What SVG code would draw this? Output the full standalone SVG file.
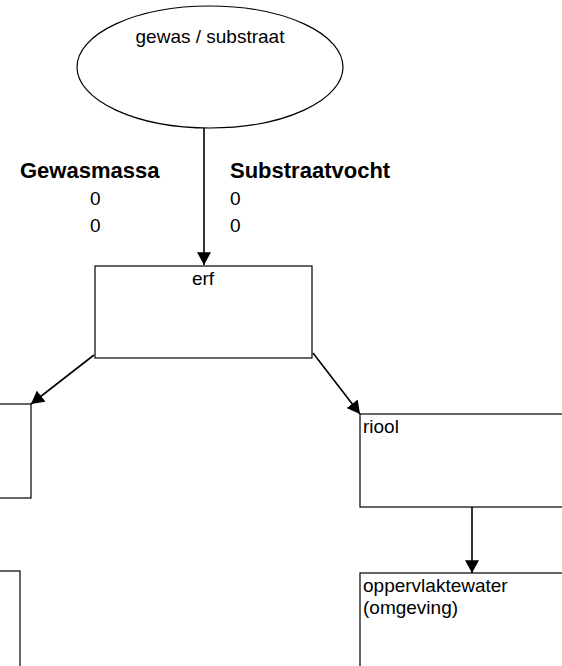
<svg xmlns="http://www.w3.org/2000/svg" width="562" height="666" viewBox="0 0 562 666">
  <style>
    .shape { fill: #fff; stroke: #000; stroke-width: 1.2; }
    .edge { stroke: #000; stroke-width: 1.6; fill: none; marker-end: url(#arrow); }
    .lbl { font-family: "Liberation Sans", Arial, sans-serif; font-size: 19px; fill: #000; }
    .hdr { font-family: "Liberation Sans", Arial, sans-serif; font-size: 22px; font-weight: bold; fill: #000; }
  </style>
  <defs>
    <marker id="arrow" markerUnits="userSpaceOnUse" markerWidth="14" markerHeight="14" viewBox="0 0 12 12" refX="11" refY="6" orient="auto">
      <path d="M0,0 L11,6 L0,12 Z" fill="#000"/>
    </marker>
  </defs>
  <rect width="562" height="666" fill="#fff"/>

  <!-- connectors -->
  <g id="connectors">
    <line class="edge" x1="204" y1="128" x2="204" y2="265"/>
    <line class="edge" x1="94" y1="355" x2="31" y2="404"/>
    <line class="edge" x1="313" y1="353" x2="360" y2="414"/>
    <line class="edge" x1="472" y1="507" x2="472" y2="573"/>
  </g>

  <g id="gewas-substraat">
    <ellipse class="shape" cx="210" cy="67" rx="133" ry="61"/>
    <text class="lbl" x="210" y="43" text-anchor="middle">gewas / substraat</text>
  </g>

  <g id="waarden">
    <text class="hdr" x="20" y="178">Gewasmassa</text>
    <text class="lbl" x="90" y="205">0</text>
    <text class="lbl" x="90" y="232">0</text>
    <text class="hdr" x="230" y="178">Substraatvocht</text>
    <text class="lbl" x="230" y="205">0</text>
    <text class="lbl" x="230" y="232">0</text>
  </g>

  <g id="erf">
    <rect class="shape" x="95" y="266" width="217" height="92"/>
    <text class="lbl" x="203" y="285" text-anchor="middle">erf</text>
  </g>

  <g id="links-boven">
    <rect class="shape" x="-10" y="404" width="41" height="94"/>
  </g>

  <g id="links-onder">
    <rect class="shape" x="-10" y="571" width="30" height="100"/>
  </g>

  <g id="riool">
    <rect class="shape" x="360" y="414" width="220" height="93"/>
    <text class="lbl" x="363" y="433">riool</text>
  </g>

  <g id="oppervlaktewater">
    <rect class="shape" x="360" y="573" width="220" height="100"/>
    <text class="lbl" x="363" y="592">oppervlaktewater</text>
    <text class="lbl" x="363" y="614">(omgeving)</text>
  </g>
</svg>
